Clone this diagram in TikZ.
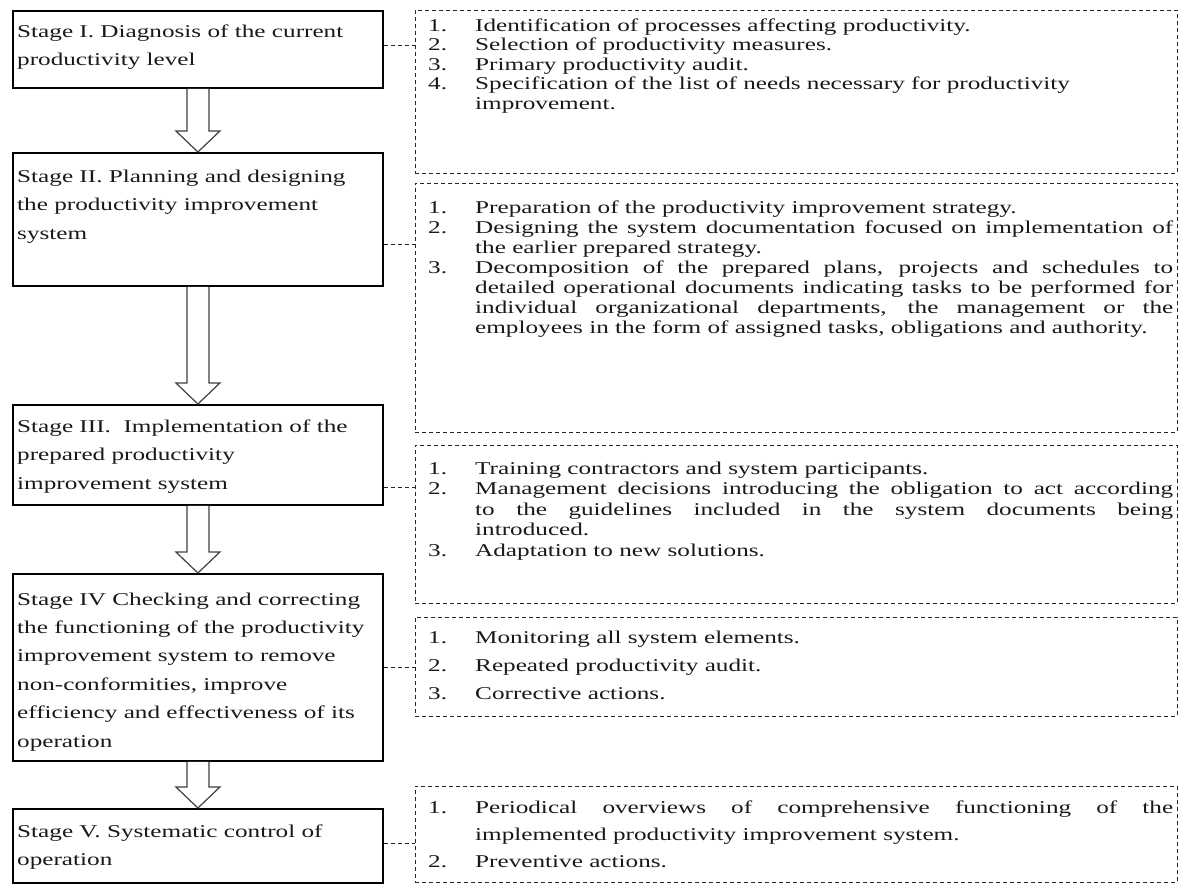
\documentclass[tikz,border=0pt]{standalone}
\usepackage{fontspec}
\setmainfont[FakeStretch=1.4]{Liberation Serif}
\usetikzlibrary{calc}
\newcommand\rowsblock[2]{\vtop{\baselineskip=#1\lineskiplimit=-100pt\lineskip=0pt #2}}
\newcommand\lrow[2]{\hbox{\hbox to 47pt{#1\hss}#2}}
\newcommand\jrow[2]{\hbox{\hbox to 47pt{#1\hss}\hbox to 698pt{#2}}}
\newcommand\srow[1]{\hbox{#1}}
\newcommand\blockarrow[2]{\draw[barrow] ($(#1.south)+(-11,0)$) -- ($(#2.north)+(-11,-21)$) -- ($(#2.north)+(-22,-21)$) -- (#2.north) -- ($(#2.north)+(22,-21)$) -- ($(#2.north)+(11,-21)$) -- ($(#1.south)+(11,0)$);}
\hbadness=10000
\begin{document}
\begin{tikzpicture}[x=1pt,y=-1pt,
  stagebox/.style={draw=black, line width=1.8pt, inner sep=0pt, anchor=north west, minimum width=370pt},
  listbox/.style={draw=black!85, line width=0.9pt, dash pattern=on 4pt off 3pt, inner sep=0pt, anchor=north west, minimum width=762pt},
  txt/.style={inner sep=0pt, anchor=base west, font=\fontsize{18}{20}\selectfont, text=black!90},
  barrow/.style={draw=black!75, line width=1.2pt, fill=white, line join=miter},
  conn/.style={draw=black!85, line width=0.9pt, dash pattern=on 4pt off 3pt}]
\useasboundingbox (0,0) rectangle (1184,884);
% stage boxes
\node[stagebox, minimum height=77pt] (s1) at (12,10) {};
\node[stagebox, minimum height=133pt] (s2) at (12,152) {};
\node[stagebox, minimum height=100pt] (s3) at (12,404) {};
\node[stagebox, minimum height=187pt] (s4) at (12,573) {};
\node[stagebox, minimum height=74pt] (s5) at (12,808) {};
% stage texts
\node[txt] (s1t) at (17,37) {\rowsblock{28.5pt}{\srow{Stage I. Diagnosis of the current}\srow{productivity level}}};
\node[txt] (s2t) at (17,182) {\rowsblock{28.5pt}{\srow{Stage II. Planning and designing}\srow{the productivity improvement}\srow{system}}};
\node[txt] (s3t) at (17,432) {\rowsblock{28.5pt}{\srow{Stage III.\ \ Implementation of the}\srow{prepared productivity}\srow{improvement system}}};
\node[txt] (s4t) at (17,605) {\rowsblock{28.4pt}{\srow{Stage IV Checking and correcting}\srow{the functioning of the productivity}\srow{improvement system to remove}\srow{non-conformities, improve}\srow{efficiency and effectiveness of its}\srow{operation}}};
\node[txt] (s5t) at (17,837) {\rowsblock{28.5pt}{\srow{Stage V. Systematic control of}\srow{operation}}};
% arrows
\blockarrow{s1}{s2}
\blockarrow{s2}{s3}
\blockarrow{s3}{s4}
\blockarrow{s4}{s5}
% list boxes
\node[listbox, minimum height=163pt] (b1) at (415,10) {};
\node[listbox, minimum height=249pt] (b2) at (415,183) {};
\node[listbox, minimum height=158pt] (b3) at (415,445) {};
\node[listbox, minimum height=99pt] (b4) at (415,617) {};
\node[listbox, minimum height=96pt] (b5) at (415,786) {};
% list texts
\node[txt] (b1t) at (428,31) {\rowsblock{19.5pt}{%
  \lrow{1.}{Identification of processes affecting productivity.}%
  \lrow{2.}{Selection of productivity measures.}%
  \lrow{3.}{Primary productivity audit.}%
  \lrow{4.}{Specification of the list of needs necessary for productivity}%
  \lrow{}{improvement.}}};
\node[txt] (b2t) at (428,213) {\rowsblock{20pt}{%
  \lrow{1.}{Preparation of the productivity improvement strategy.}%
  \jrow{2.}{Designing the system documentation focused on implementation of}%
  \lrow{}{the earlier prepared strategy.}%
  \jrow{3.}{Decomposition of the prepared plans, projects and schedules to}%
  \jrow{}{detailed operational documents indicating tasks to be performed for}%
  \jrow{}{individual organizational departments, the management or the}%
  \lrow{}{employees in the form of assigned tasks, obligations and authority.}}};
\node[txt] (b3t) at (428,474) {\rowsblock{20.5pt}{%
  \lrow{1.}{Training contractors and system participants.}%
  \jrow{2.}{Management decisions introducing the obligation to act according}%
  \jrow{}{to the guidelines included in the system documents being}%
  \lrow{}{introduced.}%
  \lrow{3.}{Adaptation to new solutions.}}};
\node[txt] (b4t) at (428,643) {\rowsblock{28pt}{%
  \lrow{1.}{Monitoring all system elements.}%
  \lrow{2.}{Repeated productivity audit.}%
  \lrow{3.}{Corrective actions.}}};
\node[txt] (b5t) at (428,813) {\rowsblock{27pt}{%
  \jrow{1.}{Periodical overviews of comprehensive functioning of the}%
  \lrow{}{implemented productivity improvement system.}%
  \lrow{2.}{Preventive actions.}}};
% connectors
\coordinate (c1) at (0,45);
\coordinate (c2) at (0,244);
\coordinate (c3) at (0,487);
\coordinate (c4) at (0,667);
\coordinate (c5) at (0,843);
\draw[conn] (s1.east |- c1) -- (b1.west |- c1);
\draw[conn] (s2.east |- c2) -- (b2.west |- c2);
\draw[conn] (s3.east |- c3) -- (b3.west |- c3);
\draw[conn] (s4.east |- c4) -- (b4.west |- c4);
\draw[conn] (s5.east |- c5) -- (b5.west |- c5);
\end{tikzpicture}
\end{document}
